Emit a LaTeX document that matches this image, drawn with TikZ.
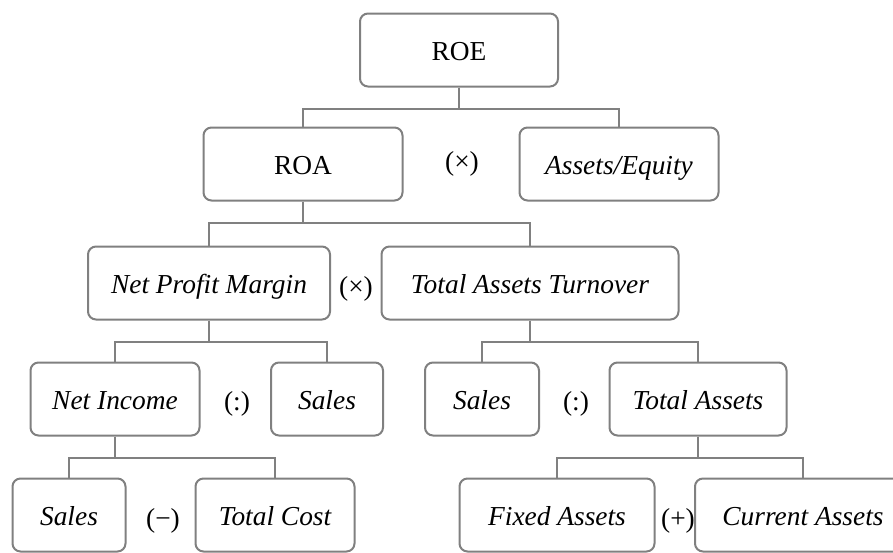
\documentclass[tikz,border=0pt]{standalone}
\usepackage{fontspec}
\setmainfont{Liberation Serif}
\tikzset{box/.style={draw=black!50, line width=1pt, rounded corners=4pt, fill=white,
    minimum width=#1, minimum height=36.5pt, inner sep=0pt,
    text height=12pt, text depth=2pt,
    font=\fontsize{13.7}{16}\selectfont\itshape},
  upright/.style={font=\fontsize{13.7}{16}\selectfont\upshape},
  op/.style={inner sep=0pt, text height=12pt, text depth=2pt,
    font=\fontsize{13.7}{16}\selectfont},
  link/.style={draw=black!50, line width=1pt}}

\begin{document}
\begin{tikzpicture}[x=0.5pt, y=-0.5pt]

    \useasboundingbox (0,0) rectangle (893,552);
    \clip (0,0) rectangle (893,552);

    % row 1
    \node[box=99pt, upright] (roe) at (459,50) {ROE};

    % row 2
    \node[box=99.5pt, upright] (roa) at (303,164) {ROA};
    \node[box=99.5pt] (ae) at (619,164) {Assets/Equity};
    \node[op] (op1) at (462,160) {(×)};

    % row 3
    \node[box=121pt] (npm) at (209,283) {Net Profit Margin};
    \node[box=148.5pt] (tat) at (530,283) {Total Assets Turnover};
    \node[op] (op2) at (356,285) {(×)};

    % row 4
    \node[box=84.5pt] (ni) at (115,399) {Net Income};
    \node[box=56pt] (sales1) at (327,399) {Sales};
    \node[box=57pt] (sales2) at (482,399) {Sales};
    \node[box=88.5pt] (ta) at (698,399) {Total Assets};
    \node[op] (op3) at (237,400) {(:)};
    \node[op] (op4) at (576,400) {(:)};

    % row 5
    \node[box=56.5pt] (sales3) at (69,515) {Sales};
    \node[box=79.5pt] (tc) at (275,515) {Total Cost};
    \node[box=97.5pt] (fa) at (557,515) {Fixed Assets};
    \node[box=108pt] (ca) at (803,515) {Current Assets};
    \node[op] (op5) at (163,517) {(−)};
    \node[op] (op6) at (678,517) {(+)};

    \foreach \p/\c in {roe/roa, roe/ae, roa/npm, roa/tat, npm/ni, npm/sales1,
                       tat/sales2, tat/ta, ni/sales3, ni/tc, ta/fa, ta/ca}
        \draw[link] (\p.south) -- ++(0,21) -| (\c.north);

\end{tikzpicture}
\end{document}
